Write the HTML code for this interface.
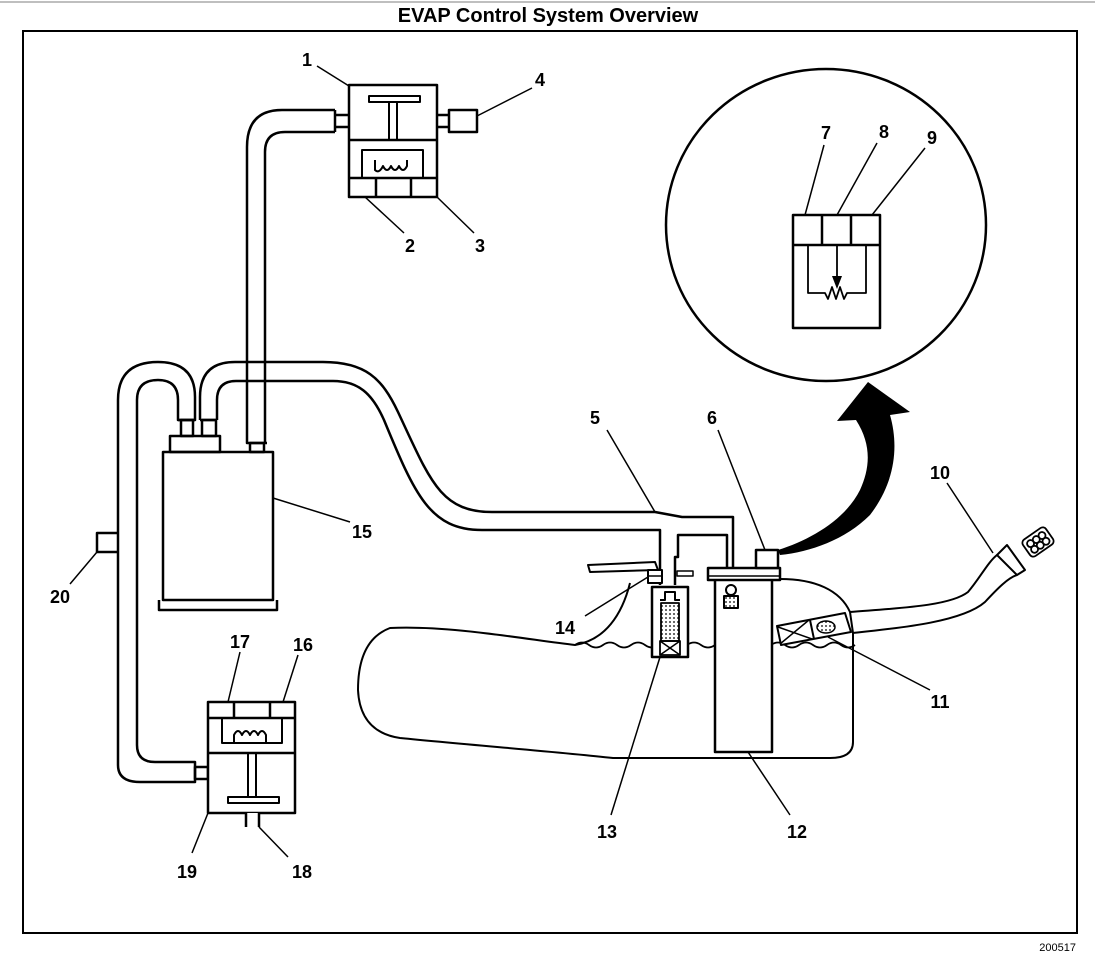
<!DOCTYPE html>
<html><head><meta charset="utf-8"><style>
html,body{margin:0;padding:0;background:#fff;}
svg{display:block;}
text{font-family:"Liberation Sans",Arial,sans-serif;}
</style></head><body>
<svg width="1095" height="954" viewBox="0 0 1095 954" xmlns="http://www.w3.org/2000/svg">
<defs>
<pattern id="dots" width="4" height="4" patternUnits="userSpaceOnUse"><circle cx="2" cy="2" r="0.9" fill="#000"/></pattern>
</defs>
<line x1="0" y1="2" x2="1095" y2="2" stroke="#aaa" stroke-width="1.5"/>
<text x="548" y="22" font-size="20" font-weight="bold" text-anchor="middle">EVAP Control System Overview</text>
<rect x="23" y="31" width="1054" height="902" fill="none" stroke="#000" stroke-width="2"/>
<text x="1076" y="951" font-size="11" text-anchor="end">200517</text>

<g fill="none" stroke="#000" stroke-width="2.5" stroke-linejoin="round">
<!-- valve 1 -->
<rect x="349" y="85" width="88" height="112" fill="#fff"/>
<line x1="349" y1="140" x2="437" y2="140"/>
<rect x="369" y="96" width="51" height="6" stroke-width="2"/>
<line x1="389" y1="102" x2="389" y2="140" stroke-width="2"/>
<line x1="397" y1="102" x2="397" y2="140" stroke-width="2"/>
<path d="M362,178 L362,150 L423,150 L423,178" stroke-width="2"/>
<path d="M375,160 L375,170 Q379,174 383,166 Q387,174 391,166 Q395,174 399,166 Q403,174 407,166 L407,160" stroke-width="2"/>
<line x1="349" y1="178" x2="437" y2="178"/>
<line x1="376" y1="178" x2="376" y2="197"/>
<line x1="411" y1="178" x2="411" y2="197"/>
<path d="M349,115 L335,115 M349,127 L335,127"/>
<path d="M437,115 L449,115 M437,127 L449,127"/>
<rect x="449" y="110" width="28" height="22"/>
<!-- hose from valve 1 -->
<path d="M335,110 L282,110 Q247,110 247,147 L247,443 L267,443"/>
<path d="M335,132 L285,132 Q265,132 265,152 L265,443"/>
<line x1="335" y1="110" x2="335" y2="132"/>
<rect x="250" y="443" width="14" height="9"/>
<!-- canister 15 -->
<rect x="163" y="452" width="110" height="148"/>
<path d="M159,600 L159,610 L277,610 L277,600"/>
<rect x="170" y="436" width="50" height="16"/>
<rect x="181" y="420" width="12" height="16"/>
<rect x="202" y="420" width="14" height="16"/>
<!-- left loop -->
<path d="M195,420 L195,397 Q195,362 158,362 Q118,362 118,400 L118,765 Q118,782 140,782 L195,782 L195,762 L155,762 Q137,762 137,745 L137,400 Q137,380 158,380 Q178,380 178,400 L178,420 Z"/>
<rect x="195" y="767" width="13" height="12"/>
<path d="M118,533 L97,533 L97,552 L118,552"/>
<!-- loop 2 / hose 5 -->
<path d="M200,420 L200,397 Q200,362 235,362 L323,362 C365,362 382,378 398,412 C430,480 440,512 492,512 L655,512 L682,517 L733,517 L733,568"/>
<path d="M217,420 L217,400 Q217,381 236,381 L333,381 C358,381 372,393 384,420 C415,495 430,530 482,530 L660,530 L660,585"/>
<path d="M675,585 L675,557 L678,557 L678,535 L727,535 L727,568"/>
<line x1="200" y1="420" x2="217" y2="420"/>
<line x1="178" y1="420" x2="195" y2="420"/>
<!-- tank -->
<path d="M780,579 C815,579 840,590 850,612 L853,633 L853,742 Q853,758 830,758 L613,758 C560,752 470,745 400,738 Q360,732 358,690 Q358,640 390,628 C450,625 530,640 575,645 C605,640 622,615 630,583" stroke-width="2"/>
<path d="M575,645 q7,-5 14,0 q7,5 14,0 q7,-5 14,0 q7,5 14,0 q7,-5 14,0 q7,5 14,0 q7,-5 14,0 q7,5 14,0 q7,-5 14,0 q7,5 14,0 q7,-5 14,0 q7,5 14,0 q7,-5 14,0 q7,5 14,0 q7,-5 14,0 q7,5 14,0 q7,-5 14,0 q7,5 14,0 q7,-5 14,0 q7,5 14,0" stroke-width="1.8"/>
<!-- module 12 -->
<rect x="715" y="575" width="57" height="177" fill="#fff"/>
<rect x="708" y="568" width="72" height="12" fill="#fff"/>
<line x1="708" y1="576" x2="780" y2="576" stroke-width="1.5"/>
<rect x="756" y="550" width="22" height="18" fill="#fff"/>
<circle cx="731" cy="590" r="5" stroke-width="2"/>
<rect x="724" y="596" width="14" height="12" fill="url(#dots)" stroke-width="2"/>
<!-- canister 13 -->
<rect x="652" y="587" width="36" height="70" fill="#fff"/>
<path d="M660,600 L665,600 L665,592 L675,592 L675,600 L680,600" stroke-width="2"/>
<rect x="661" y="603" width="18" height="38" fill="url(#dots)" stroke-width="1.8"/>
<rect x="660" y="641" width="20" height="14" stroke-width="1.8"/>
<path d="M660,641 L680,655 M680,641 L660,655" stroke-width="1.5"/>
<!-- lever 14 -->
<path d="M588,565 L655,562 L658,570 L590,572 Z" fill="#fff" stroke-width="2"/>
<rect x="648" y="570" width="14" height="13" fill="#fff" stroke-width="2"/>
<line x1="648" y1="576" x2="662" y2="576" stroke-width="1.5"/>
<rect x="677" y="571" width="16" height="5" stroke-width="1.5"/>
<!-- filler neck 10 -->
<path d="M850,612 C900,608 950,606 968,592 C980,578 988,562 997,555" stroke-width="2"/>
<path d="M853,633 C900,628 962,622 985,602 C998,588 1008,578 1017,575" stroke-width="2"/>
<path d="M997,555 L1007,545 L1025,570 L1017,575 Z" fill="#fff" stroke-width="2"/>
<g transform="translate(1038,542) rotate(-35)" stroke-width="1.8">
<rect x="-14" y="-10" width="28" height="20" rx="4" fill="#fff"/>
<circle cx="-7" cy="-3" r="3.5"/><circle cx="0" cy="-3" r="3.5"/><circle cx="7" cy="-3" r="3.5"/>
<circle cx="-7" cy="4" r="3.5"/><circle cx="0" cy="4" r="3.5"/><circle cx="7" cy="4" r="3.5"/>
</g>
<!-- insert 11 -->
<path d="M777,626 L845,613 L851,632 L781,645 Z" fill="#fff" stroke-width="2"/>
<line x1="810" y1="620" x2="814" y2="639" stroke-width="2"/>
<path d="M778,627 L812,639 M809,620 L780,644" stroke-width="1.5"/>
<ellipse cx="826" cy="627" rx="9" ry="6" fill="url(#dots)" stroke-width="1.5"/>
<!-- valve 16-19 -->
<rect x="208" y="702" width="87" height="111" fill="#fff"/>
<line x1="208" y1="718" x2="295" y2="718"/>
<line x1="234" y1="702" x2="234" y2="718"/>
<line x1="270" y1="702" x2="270" y2="718"/>
<line x1="208" y1="753" x2="295" y2="753"/>
<path d="M222,718 L222,743 L282,743 L282,718" stroke-width="2"/>
<path d="M234,743 L234,735 Q238,727 242,735 Q246,727 250,735 Q254,727 258,735 Q262,727 266,735 L266,743" stroke-width="2"/>
<line x1="248" y1="753" x2="248" y2="797" stroke-width="2"/>
<line x1="256" y1="753" x2="256" y2="797" stroke-width="2"/>
<rect x="228" y="797" width="51" height="6" stroke-width="2"/>
<rect x="246" y="813" width="13" height="14" fill="#fff" stroke="none"/>
<path d="M246,813 L246,827 M259,813 L259,827"/>
<!-- circle detail -->
<ellipse cx="826" cy="225" rx="160" ry="156"/>
<rect x="793" y="215" width="87" height="113"/>
<line x1="793" y1="245" x2="880" y2="245"/>
<line x1="822" y1="215" x2="822" y2="245"/>
<line x1="851" y1="215" x2="851" y2="245"/>
<path d="M808,245 L808,293 L825,293 l3,6 l4,-12 l4,12 l4,-12 l4,12 l3,-6 L866,293 L866,245" stroke-width="1.8"/>
<line x1="837" y1="245" x2="837" y2="283" stroke-width="1.8"/>
</g>
<path d="M832,276 L842,276 L837,289 Z" fill="#000"/>
<!-- black arrow -->
<path d="M778,550 C810,540 845,520 860,490 C870,468 872,445 856,420 L837,421 L868,382 L910,412 L890,415 C900,450 893,485 870,515 C845,540 810,552 780,555 Z" fill="#000"/>

<!-- leaders -->
<g stroke="#000" stroke-width="1.5">
<line x1="317" y1="66" x2="349" y2="86"/>
<line x1="532" y1="88" x2="477" y2="116"/>
<line x1="404" y1="233" x2="365" y2="197"/>
<line x1="474" y1="233" x2="437" y2="197"/>
<line x1="350" y1="522" x2="273" y2="498"/>
<line x1="70" y1="584" x2="97" y2="552"/>
<line x1="607" y1="430" x2="655" y2="512"/>
<line x1="718" y1="430" x2="765" y2="550"/>
<line x1="947" y1="483" x2="993" y2="553"/>
<line x1="930" y1="690" x2="828" y2="637"/>
<line x1="790" y1="815" x2="748" y2="752"/>
<line x1="611" y1="815" x2="660" y2="657"/>
<line x1="585" y1="616" x2="648" y2="577"/>
<line x1="240" y1="652" x2="228" y2="702"/>
<line x1="298" y1="655" x2="283" y2="702"/>
<line x1="192" y1="853" x2="208" y2="813"/>
<line x1="288" y1="857" x2="259" y2="827"/>
<line x1="824" y1="145" x2="805" y2="215"/>
<line x1="877" y1="143" x2="837" y2="215"/>
<line x1="925" y1="148" x2="872" y2="215"/>
</g>
<g font-size="18" font-weight="bold" text-anchor="middle">
<text x="307" y="66">1</text>
<text x="410" y="252">2</text>
<text x="480" y="252">3</text>
<text x="540" y="86">4</text>
<text x="595" y="424">5</text>
<text x="712" y="424">6</text>
<text x="826" y="139">7</text>
<text x="884" y="138">8</text>
<text x="932" y="144">9</text>
<text x="940" y="479">10</text>
<text x="940" y="708">11</text>
<text x="797" y="838">12</text>
<text x="607" y="838">13</text>
<text x="565" y="634">14</text>
<text x="362" y="538">15</text>
<text x="303" y="651">16</text>
<text x="240" y="648">17</text>
<text x="302" y="878">18</text>
<text x="187" y="878">19</text>
<text x="60" y="603">20</text>
</g>
</svg>
</body></html>
